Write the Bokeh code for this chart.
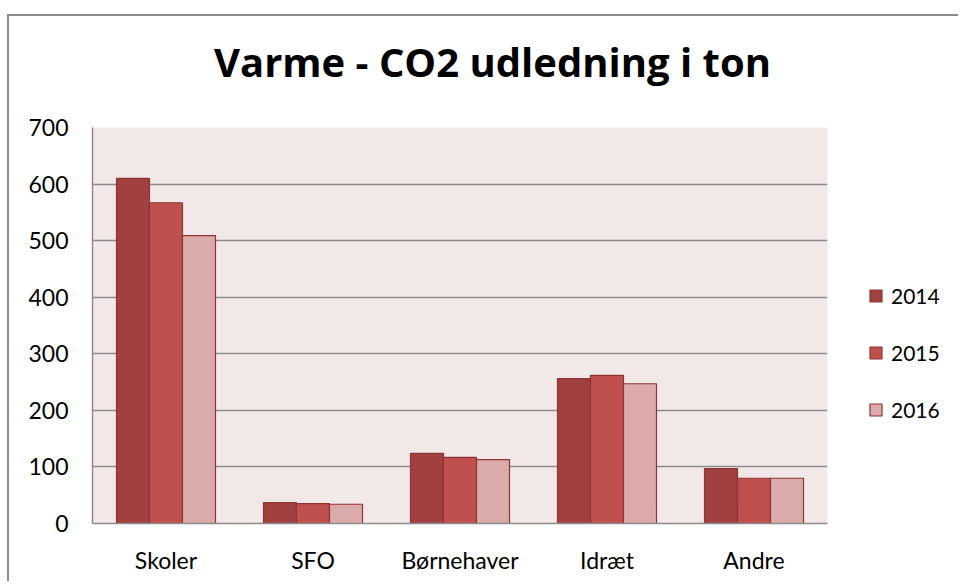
from bokeh.plotting import figure
from bokeh.models import ColumnDataSource, Legend, LegendItem, Range1d, FixedTicker, Label, FactorRange
from bokeh.layouts import column, row
from bokeh.transform import dodge
from bokeh.embed import file_html
from bokeh.resources import INLINE

categories = ["Skoler", "SFO", "Børnehaver", "Idræt", "Andre"]
years = ["2014", "2015", "2016"]
v2014 = [610, 37, 124, 256, 97]
v2015 = [567, 35, 117, 262, 80]
v2016 = [509, 34, 113, 247, 80]
colors = ["#A04040", "#C0504D", "#DBABAB"]
y_ticks = [0, 100, 200, 300, 400, 500, 600, 700]
title_text = "Varme - CO2 udledning i ton"

FONT = "Lato"
EDGE = "#8E3434"
BAR_W = 0.2245

src = ColumnDataSource(data=dict(cat=categories, y2014=v2014, y2015=v2015, y2016=v2016))

# ---- title strip ----
pt = figure(width=949, height=94, output_backend="svg", toolbar_location=None,
            x_range=Range1d(0, 1), y_range=Range1d(0, 1),
            x_axis_location=None, y_axis_location=None,
            min_border=0, border_fill_color="white", background_fill_color="white")
pt.outline_line_color = None
pt.grid.visible = False
pt.add_layout(Label(x=483, y=49, x_units="screen", y_units="screen", text=title_text,
                    text_font="Open Sans", text_font_style="bold", text_font_size="40px",
                    text_align="center", text_baseline="alphabetic", text_color="black"))

# ---- main chart ----
p = figure(x_range=categories, y_range=Range1d(0, 700), width=831, height=471,
           output_backend="svg", toolbar_location=None,
           min_border_left=83, min_border_right=13, min_border_top=17, min_border_bottom=58,
           background_fill_color="#F2E8E8", border_fill_color="white")
p.outline_line_color = None

for i, (yr, col) in enumerate(zip(years, colors)):
    p.vbar(x=dodge("cat", (i - 1) * BAR_W, range=p.x_range), top="y" + yr, width=BAR_W,
           source=src, fill_color=col, line_color=EDGE, line_width=1.2)

p.xgrid.grid_line_color = None
p.ygrid.grid_line_color = "#8c8c8c"
p.ygrid.grid_line_width = 1.5
p.yaxis.ticker = FixedTicker(ticks=y_ticks)

for ax in (p.xaxis[0], p.yaxis[0]):
    ax.axis_line_color = "#8c8c8c"
    ax.axis_line_width = 1.5
    ax.major_label_text_font = FONT
    ax.major_label_text_font_size = "23px"
    ax.major_label_text_color = "black"
    ax.minor_tick_line_color = None
    ax.major_tick_line_color = None
p.yaxis.major_tick_out = 0
p.yaxis.major_tick_in = 0
p.yaxis.major_label_standoff = 24
p.xaxis.major_label_standoff = 16

# ---- legend strip (hidden proxy renderers; legend shows them un-dimmed) ----
pl = figure(width=118, height=471, output_backend="svg", toolbar_location=None,
            x_range=FactorRange(*categories), y_range=Range1d(0, 700),
            x_axis_location=None, y_axis_location=None,
            min_border=0, border_fill_color="white", background_fill_color="white")
pl.outline_line_color = None
pl.grid.visible = False
leg_renderers = []
for yr, col in zip(years, colors):
    r = pl.vbar(x="cat", top="y" + yr, width=BAR_W, source=src,
                fill_color=col, line_color=EDGE, line_width=1.2)
    r.visible = False
    leg_renderers.append(r)
legend = Legend(items=[LegendItem(label=yr, renderers=[r], index=0) for yr, r in zip(years, leg_renderers)],
                location=(28, 101), orientation="vertical",
                glyph_width=15, glyph_height=15, label_height=20, spacing=32,
                label_text_font=FONT, label_text_font_size="21px", label_standoff=8,
                label_text_color="black", inactive_fill_alpha=0,
                padding=0, margin=0, border_line_color=None, background_fill_alpha=0)
pl.add_layout(legend)

layout = column(pt, row(p, pl))
layout.margin = (14, 0, 0, 7)
layout.styles = {"border-left": "2px solid #8c8c8c", "border-top": "2px solid #8c8c8c"}

open("out.html", "w").write(file_html(layout, INLINE))
